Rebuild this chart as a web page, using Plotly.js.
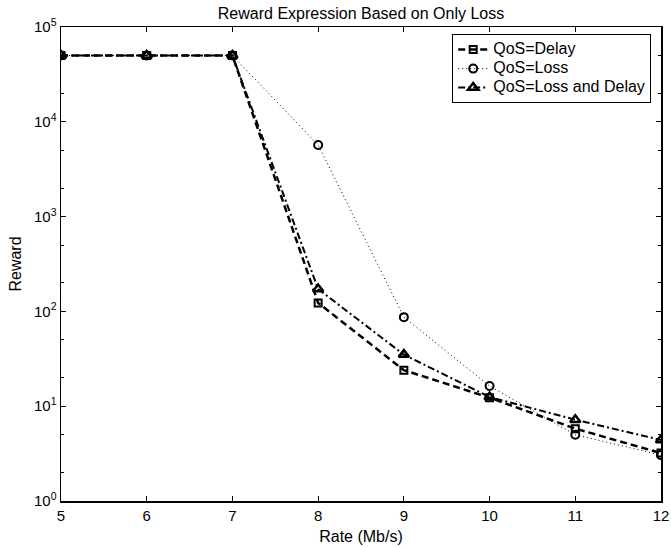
<!DOCTYPE html>
<html>
<head>
<meta charset="utf-8">
<script src="https://cdn.plot.ly/plotly-3.0.1.min.js"></script>
<style>html,body{margin:0;padding:0;background:#fff;}#chart{width:671px;height:548px;}</style>
</head>
<body>
<div id="chart"></div>
<script>
var rates = [5, 6, 7, 8, 9, 10, 11, 12];
var rewardDelay = [50000, 50000, 50000, 123, 24, 12.3, 5.8, 3.2];
var rewardLoss = [50000, 50000, 50000, 5700, 87, 16.3, 5.0, 3.05];
var rewardLossDelay = [50000, 50000, 50000, 172, 35, 12.5, 7.2, 4.4];
var seriesNames = ['QoS=Delay', 'QoS=Loss', 'QoS=Loss and Delay'];
var yTickVals = [1, 10, 100, 1000, 10000, 100000];
var yTickText = ['10<sup>0</sup>', '10<sup>1</sup>', '10<sup>2</sup>', '10<sup>3</sup>', '10<sup>4</sup>', '10<sup>5</sup>'];
var xTickVals = [5, 6, 7, 8, 9, 10, 11, 12];

var fontFam = 'Liberation Sans, Arial, sans-serif';
function legendLabel(s) { return '<span style="font-size:16px">' + s + '</span>'; }

var traces = [
  {
    x: rates, y: rewardDelay, name: legendLabel(seriesNames[0]), type: 'scatter', mode: 'lines+markers',
    line: {color: '#000', width: 2.5, dash: '7px,4px'},
    marker: {symbol: 'square-open', size: 7, color: '#000', line: {width: 2, color: '#000'}}
  },
  {
    x: rates, y: rewardLoss, name: legendLabel(seriesNames[1]), type: 'scatter', mode: 'lines+markers',
    line: {color: '#000', width: 1, dash: '1px,3px'},
    marker: {symbol: 'circle-open', size: 8, color: '#000', line: {width: 2, color: '#000'}}
  },
  {
    x: rates, y: rewardLossDelay, name: legendLabel(seriesNames[2]), type: 'scatter', mode: 'lines+markers',
    line: {color: '#000', width: 2, dash: '7px,3px,2px,3px'},
    marker: {symbol: 'triangle-up-open', size: 9, color: '#000', line: {width: 2.5, color: '#000'}}
  }
];

var layout = {
  width: 671, height: 548,
  margin: {l: 61, r: 10, t: 27, b: 47},
  paper_bgcolor: '#fff', plot_bgcolor: '#fff',
  font: {family: fontFam, size: 15, color: '#000'},
  title: {text: 'Reward Expression Based on Only Loss', font: {family: fontFam, size: 16, color: '#000'},
          x: 0.5, xref: 'paper', y: 0.976, yref: 'container', yanchor: 'middle'},
  showlegend: true,
  legend: {x: 0.652, y: 0.985, xanchor: 'left', yanchor: 'top', bgcolor: '#fff',
           bordercolor: '#000', borderwidth: 1, font: {family: fontFam, size: 12, color: '#000'},
           tracegroupgap: 0},
  xaxis: {
    range: [5, 12], tickvals: xTickVals, ticks: 'inside', ticklen: 5, tickwidth: 1, tickcolor: '#000',
    showline: true, linecolor: '#000', linewidth: 1.5, mirror: 'ticks', showgrid: false, zeroline: false,
    tickfont: {family: fontFam, size: 15, color: '#000'},
    title: {text: 'Rate (Mb/s)', font: {family: fontFam, size: 16, color: '#000'}, standoff: 8}
  },
  yaxis: {
    type: 'log', range: [0, 5], tickvals: yTickVals, ticktext: yTickText,
    ticks: 'inside', ticklen: 5, tickwidth: 1, tickcolor: '#000',
    minor: {ticks: 'inside', ticklen: 3, tickwidth: 1, tickcolor: '#000', showgrid: false},
    showline: true, linecolor: '#000', linewidth: 1.5, mirror: 'ticks', showgrid: false, zeroline: false,
    tickfont: {family: fontFam, size: 15, color: '#000'},
    title: {text: 'Reward', font: {family: fontFam, size: 16, color: '#000'}, standoff: 8}
  }
};

Plotly.newPlot('chart', traces, layout, {displayModeBar: false, staticPlot: true});
</script>
</body>
</html>
